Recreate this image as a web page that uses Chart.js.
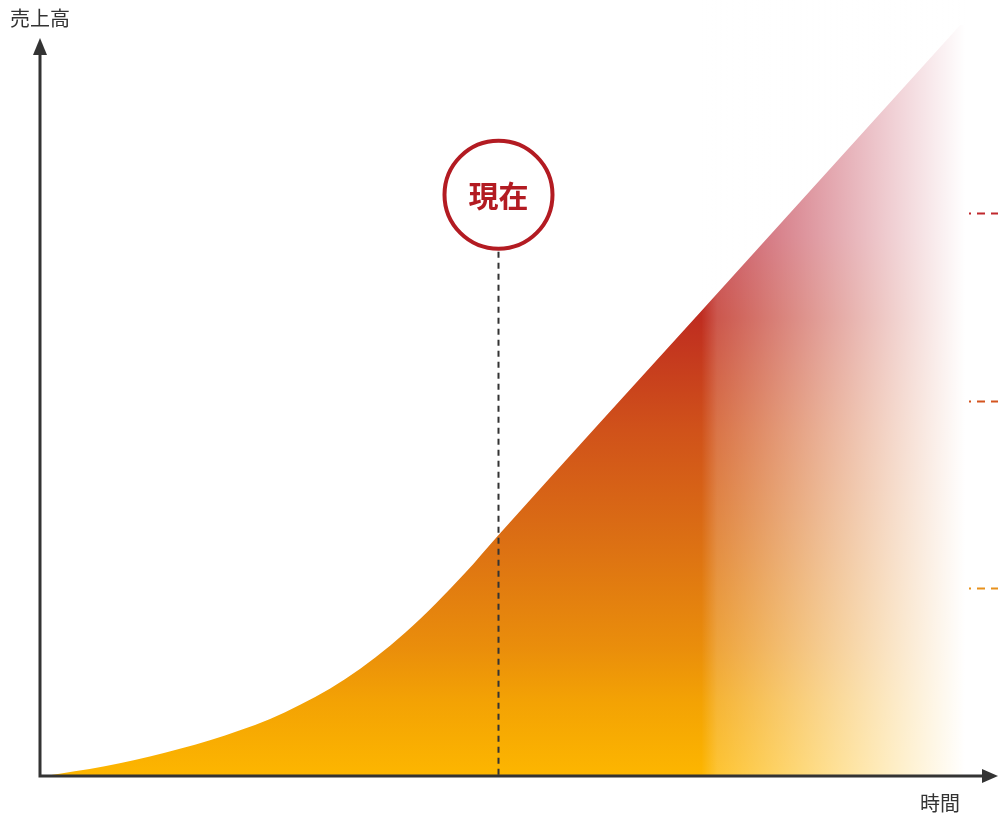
<!DOCTYPE html>
<html>
<head>
<meta charset="utf-8">
<script src="https://cdn.jsdelivr.net/npm/chart.js@4/dist/chart.umd.min.js"></script>
<style>
  html, body { margin: 0; padding: 0; background: #fff; overflow: hidden; }
  canvas { display: block; }
</style>
</head>
<body>
<canvas id="chart" width="998" height="816"></canvas>
<script>
// sales curve over time (0-100 on both axes)
const timeValues  = [0.5, 7.0, 13.5, 20.0, 26.5, 33.0, 39.5, 46.0, 49.5, 71.4, 100];
const salesValues = [0, 1.3, 3.1, 5.4, 8.5, 12.9, 19.1, 27.1, 32.0, 61.8, 100.7];
const nowTime = 49.5;
const nowMarkerLevel = 77.4;
const levelMarks = [75, 50, 25];
const levelColors = ['#c0282d', '#d4541f', '#e8911c'];
const yAxisTitle = '売上高';
const xAxisTitle = '時間';
const nowLabel = '現在';

const AXIS = '#333333';

function areaGradient(ctx) {
    const area = ctx.chart.chartArea;
    if (!area) return '#f7a800';
    const g = ctx.chart.ctx.createLinearGradient(0, area.bottom, 0, area.top);
    g.addColorStop(0, '#fdb600');
    g.addColorStop(0.1, '#f3a204');
    g.addColorStop(0.17, '#ea8e0b');
    g.addColorStop(0.32, '#db6e14');
    g.addColorStop(0.46, '#d0521a');
    g.addColorStop(0.61, '#bf2d20');
    g.addColorStop(0.72, '#be3040');
    g.addColorStop(1, '#c03550');
    return g;
}

// white fade on the right side and the axes / annotations
const decorPlugin = {
    id: 'decor',
    afterDatasetsDraw(chart) {
        const c = chart.ctx;
        const area = chart.chartArea;
        const xs = chart.scales.x;
        const ys = chart.scales.y;

        // fade towards the right
        const fx0 = xs.getPixelForValue(71.5);
        const fx1 = xs.getPixelForValue(100);
        const fade = c.createLinearGradient(fx0, 0, fx1, 0);
        fade.addColorStop(0, 'rgba(255,255,255,0)');
        fade.addColorStop(0.06, 'rgba(255,255,255,0.2)');
        fade.addColorStop(0.5, 'rgba(255,255,255,0.58)');
        fade.addColorStop(1, 'rgba(255,255,255,1)');
        c.save();
        c.fillStyle = fade;
        c.fillRect(fx0, 0, fx1 - fx0, area.bottom - 1);
        c.fillStyle = '#fff';
        c.fillRect(fx1, 0, chart.width - fx1, area.bottom - 1);
        c.restore();

        const ox = area.left, oy = area.bottom;

        // level dashes at right edge
        c.save();
        c.lineWidth = 2;
        c.setLineDash([8, 6]);
        c.lineDashOffset = 6;
        levelMarks.forEach((lv, i) => {
            const py = Math.round(ys.getPixelForValue(lv)) + 0.5;
            c.strokeStyle = levelColors[i];
            c.beginPath();
            c.moveTo(969, py);
            c.lineTo(chart.width, py);
            c.stroke();
        });
        c.restore();

        // "now" dashed line and circle
        const nx = Math.round(xs.getPixelForValue(nowTime)) + 0.5;
        const cy = ys.getPixelForValue(nowMarkerLevel);
        const r = 54;
        c.save();
        c.strokeStyle = AXIS;
        c.lineWidth = 2;
        c.setLineDash([6, 5]);
        c.beginPath();
        c.moveTo(nx, cy + r + 3);
        c.lineTo(nx, oy);
        c.stroke();
        c.setLineDash([]);
        c.strokeStyle = '#b31b22';
        c.lineWidth = 4;
        c.fillStyle = '#fff';
        c.beginPath();
        c.arc(nx, cy, r, 0, Math.PI * 2);
        c.fill();
        c.stroke();
        c.fillStyle = '#b31b22';
        c.font = 'bold 30px "Noto Sans CJK JP", sans-serif';
        c.textAlign = 'center';
        c.textBaseline = 'middle';
        c.fillText(nowLabel, nx, cy + 1);
        c.restore();

        // axes with arrows
        c.save();
        c.strokeStyle = AXIS;
        c.fillStyle = AXIS;
        c.lineWidth = 3;
        c.beginPath();
        c.moveTo(ox, 50);
        c.lineTo(ox, oy);
        c.lineTo(chart.width - 12, oy);
        c.stroke();
        c.beginPath();
        c.moveTo(ox, 38);
        c.lineTo(ox - 7, 55);
        c.lineTo(ox + 7, 55);
        c.closePath();
        c.fill();
        c.beginPath();
        c.moveTo(chart.width, oy);
        c.lineTo(chart.width - 16, oy - 7);
        c.lineTo(chart.width - 16, oy + 7);
        c.closePath();
        c.fill();

        c.font = '20px "Noto Sans CJK JP", sans-serif';
        c.textBaseline = 'middle';
        c.textAlign = 'left';
        c.fillText(yAxisTitle, 10, 18);
        c.textAlign = 'center';
        c.fillText(xAxisTitle, 940, 803);
        c.restore();
    }
};

const ctx = document.getElementById('chart').getContext('2d');
new Chart(ctx, {
    type: 'line',
    data: {
        datasets: [{
            data: timeValues.map((t, i) => ({ x: t, y: salesValues[i] })),
            fill: 'origin',
            backgroundColor: areaGradient,
            borderWidth: 0,
            pointRadius: 0,
            cubicInterpolationMode: 'monotone'
        }]
    },
    options: {
        responsive: false,
        animation: false,
        devicePixelRatio: 1,
        layout: { padding: { left: 40, right: 33, top: 25, bottom: 40 } },
        scales: {
            x: { type: 'linear', min: 0, max: 100, display: false },
            y: { min: 0, max: 100, display: false }
        },
        plugins: {
            legend: { display: false },
            tooltip: { enabled: false }
        }
    },
    plugins: [decorPlugin]
});
</script>
</body>
</html>
